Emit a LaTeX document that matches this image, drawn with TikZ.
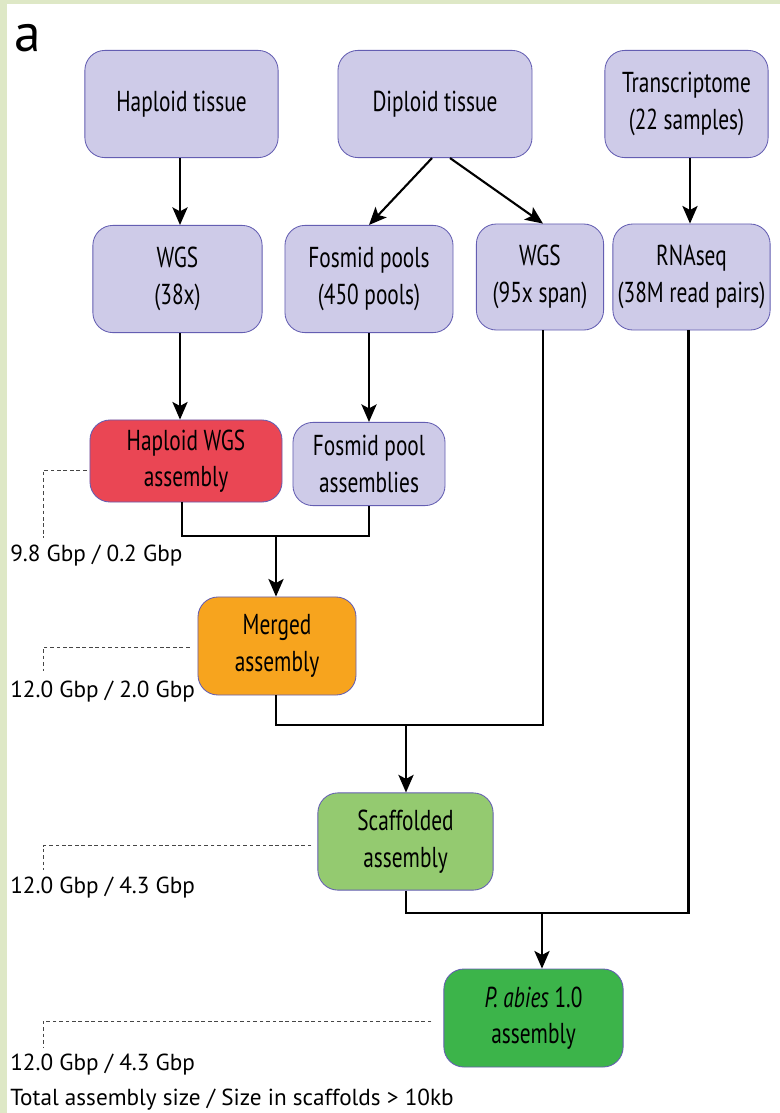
\documentclass[tikz,border=0pt]{standalone}
\usepackage{fontspec}
\setmainfont{PT Sans}
\newfontfamily\boxfont[FakeStretch=0.74]{PT Sans}
\usetikzlibrary{positioning,calc,arrows.meta}
\definecolor{framegreen}{RGB}{222,232,198}
\definecolor{tissuefill}{RGB}{206,203,232}
\definecolor{boxline}{RGB}{100,94,178}
\definecolor{haploidred}{RGB}{234,70,84}
\definecolor{mergedorange}{RGB}{247,164,30}
\definecolor{scaffgreen}{RGB}{148,202,112}
\definecolor{finalgreen}{RGB}{60,180,74}
\definecolor{notegray}{RGB}{70,70,70}

\begin{document}
\begin{tikzpicture}[x=0.025cm, y=-0.025cm,
    stepbox/.style={rectangle, draw=boxline, fill=#1, rounded corners=0.5cm,
                    line width=0.6pt, align=center, inner sep=0pt,
                    font=\boxfont\fontsize{20.5}{26}\selectfont},
    arrow/.style={-{Stealth[length=0.44cm, width=0.38cm, inset=0.1cm]}, line width=1.5pt},
    joint/.style={line width=1.5pt},
    note/.style={draw=notegray, line width=0.6pt, dash pattern=on 2.6pt off 2pt},
    sizelabel/.style={anchor=west, inner sep=0pt, font=\fontsize{16.5}{20}\selectfont}
]
\useasboundingbox (0,0) rectangle (780,1113);

% Frame
\fill[framegreen] (0,0) rectangle (780,1113);
\fill[white] (7,4) rectangle (780,1113);
\node[font=\fontsize{38}{40}\selectfont, inner sep=0pt] (panel) at (28,38) {a};

% Sources
\node[stepbox=tissuefill, minimum width=4.83cm, minimum height=2.68cm] (haptis) at (181.5,104) {Haploid tissue};
\node[stepbox=tissuefill, minimum width=4.85cm, minimum height=2.68cm] (diptis) at (435,104) {Diploid tissue};
\node[stepbox=tissuefill, minimum width=4.08cm, minimum height=2.68cm] (trans) at (686.5,104) {Transcriptome\\(22 samples)};

% Sequencing
\node[stepbox=tissuefill, minimum width=4.23cm, minimum height=2.68cm] (wgshap) at (177.5,279) {WGS\\(38x)};
\node[stepbox=tissuefill, minimum width=4.2cm, minimum height=2.68cm] (fospool) at (369,279) {Fosmid pools\\(450 pools)};
\node[stepbox=tissuefill, minimum width=3.18cm, minimum height=2.65cm] (wgsdip) at (540,277) {WGS\\(95x span)};
\node[stepbox=tissuefill, minimum width=3.93cm, minimum height=2.65cm] (rnaseq) at (691.5,277) {RNAseq\\(38M read pairs)};

% Assemblies
\node[stepbox=haploidred, minimum width=4.8cm, minimum height=2.05cm] (hapasm) at (186,461) {Haploid WGS\\assembly};
\node[stepbox=tissuefill, minimum width=3.8cm, minimum height=2.08cm] (fosasm) at (369,464) {Fosmid pool\\assemblies};
\node[stepbox=mergedorange, minimum width=3.95cm, minimum height=2.45cm] (merged) at (277,646) {Merged\\assembly};
\node[stepbox=scaffgreen, minimum width=4.38cm, minimum height=2.43cm] (scaff) at (405.5,841.5) {Scaffolded\\assembly};
\node[stepbox=finalgreen, minimum width=4.48cm, minimum height=2.45cm] (pabies) at (533.5,1018) {\textit{P. abies} 1.0\\assembly};

% Junctions and line positions
\coordinate (hapline) at (180,0);
\coordinate (rnaline) at (690,0);
\coordinate (hapasmline) at (182,0);
\coordinate (joinA) at (276,536);
\coordinate (joinB) at (406,725);
\coordinate (joinC) at (542,913);

% Connections
\draw[arrow] (haptis.south -| hapline) -- (wgshap.north -| hapline);
\draw[arrow] ($(diptis.south)+(-3,0)$) -- (fospool.north);
\draw[arrow] ($(diptis.south)+(15,0)$) -- ($(wgsdip.north)+(3,0)$);
\draw[arrow] (trans.south -| rnaline) -- (rnaseq.north -| rnaline);
\draw[arrow] (wgshap.south -| hapline) -- (hapasm.north -| hapline);
\draw[arrow] (fospool) -- (fosasm);
\draw[joint] (hapasm.south -| hapasmline) |- (joinA) -| (fosasm.south);
\draw[arrow] (joinA) -- (merged.north -| joinA);
\draw[joint] (merged.south -| joinA) |- (joinB) -| ($(wgsdip.south)+(3,0)$);
\draw[arrow] (joinB) -- (scaff.north -| joinB);
\draw[joint] (scaff.south -| joinB) |- (joinC) -| ($(rnaseq.south)+(-3,0)$);
\draw[arrow] (joinC) -- (pabies.north -| joinC);

% Sizes
\node[sizelabel] (hapsize) at (10,556) {9.8 Gbp / 0.2 Gbp};
\node[sizelabel] (mergedsize) at (10,692) {12.0 Gbp / 2.0 Gbp};
\node[sizelabel] (scaffsize) at (10,888) {12.0 Gbp / 4.3 Gbp};
\node[sizelabel] (pabiessize) at (10,1065) {12.0 Gbp / 4.3 Gbp};
\node[sizelabel] (legend) at (10,1100) {Total assembly size / Size in scaffolds > 10kb};

\coordinate (hapnote) at (43,538);
\coordinate (mergednote) at (43,671);
\coordinate (scaffnote) at (43,870);
\coordinate (pabiesnote) at (43,1047);
\draw[note] ($(hapasm.west)+(-3,9)$) -| (hapnote);
\draw[note] ($(merged.west)+(-8,1)$) -| (mergednote);
\draw[note] ($(scaff.west)+(-6,4)$) -| (scaffnote);
\draw[note] ($(pabies.west)+(-12,3)$) -| (pabiesnote);

\end{tikzpicture}
\end{document}
